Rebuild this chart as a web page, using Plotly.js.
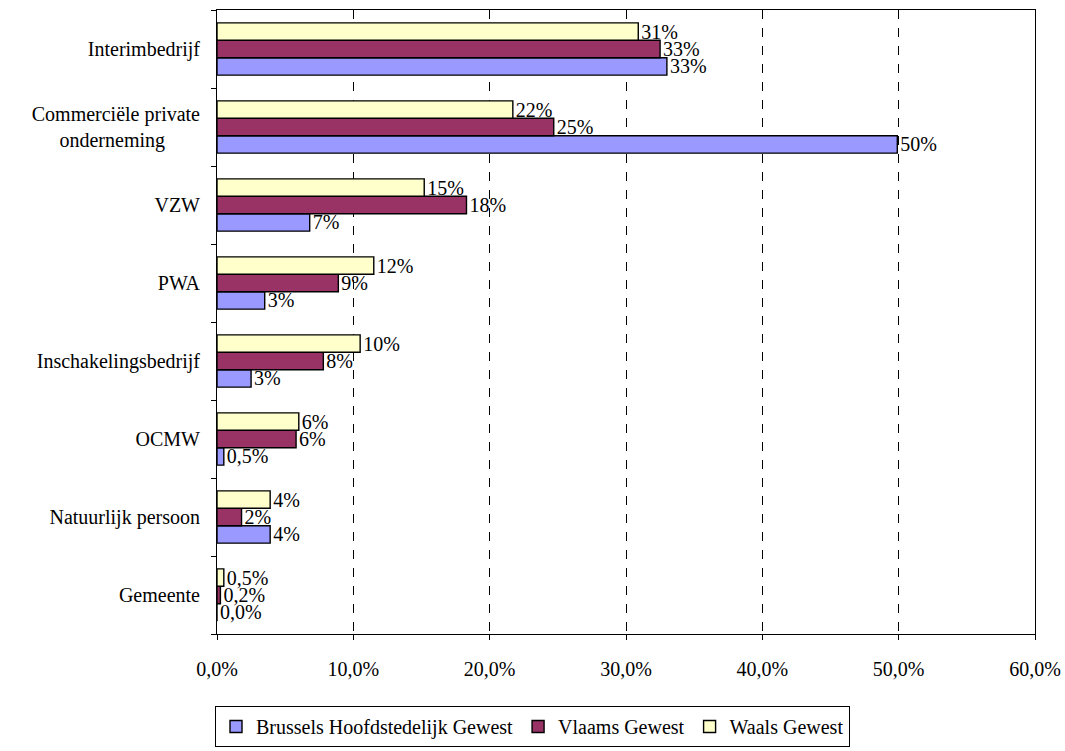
<!DOCTYPE html>
<html>
<head>
<meta charset="utf-8">
<script src="https://cdn.plot.ly/plotly-3.0.1.min.js"></script>
<style>html,body{margin:0;padding:0;background:#fff;}#chart{width:1065px;height:751px;}</style>
</head>
<body>
<div id="chart"></div>
<script>
// categories listed bottom to top
var categories = ["Gemeente", "Natuurlijk persoon", "OCMW", "Inschakelingsbedrijf", "PWA", "VZW",
  "Commerciële private<br>onderneming\u00A0\u00A0\u00A0\u00A0\u00A0\u00A0\u00A0", "Interimbedrijf"];
var brussels = [0.0, 3.9, 0.5, 2.5, 3.5, 6.8, 49.9, 33.0];
var vlaams   = [0.25, 1.8, 5.8, 7.8, 8.9, 18.3, 24.7, 32.5];
var waals    = [0.5, 3.9, 6.0, 10.5, 11.5, 15.2, 21.7, 30.9];
var brusselsLabels = ["0,0%", "4%", "0,5%", "3%", "3%", "7%", "50%", "33%"];
var vlaamsLabels   = ["0,2%", "2%", "6%", "8%", "9%", "18%", "25%", "33%"];
var waalsLabels    = ["0,5%", "4%", "6%", "10%", "12%", "15%", "22%", "31%"];
var xTicks = [0, 10, 20, 30, 40, 50, 60];
var xTickLabels = ["0,0%", "10,0%", "20,0%", "30,0%", "40,0%", "50,0%", "60,0%"];

var font = {family: "'Liberation Serif', 'Times New Roman', serif", size: 20, color: "#000"};
function tr(name, vals, labels, color) {
  return {
    type: "bar", orientation: "h", name: name, y: categories, x: vals,
    text: labels, textposition: "outside", cliponaxis: false, constraintext: "none",
    textfont: font, hoverinfo: "none",
    marker: {color: color, line: {color: "#000", width: 1.4}}
  };
}
var data = [
  tr("Brussels Hoofdstedelijk Gewest", brussels, brusselsLabels, "#9999FF"),
  tr("Vlaams Gewest", vlaams, vlaamsLabels, "#993366"),
  tr("Waals Gewest", waals, waalsLabels, "#FFFFCC")
];
var layout = {
  width: 1065, height: 751,
  margin: {l: 217, r: 30, t: 10, b: 117},
  paper_bgcolor: "#fff", plot_bgcolor: "#fff",
  font: font,
  separators: ",.",
  barmode: "group", bargap: 0.33, bargroupgap: 0,
  showlegend: true,
  legend: {orientation: "h", xref: "container", x: 0.5, xanchor: "center",
    yref: "container", y: 0.06, yanchor: "top",
    bordercolor: "#000", borderwidth: 1, font: font, traceorder: "normal",
    itemwidth: 30, tracegroupgap: 0},
  xaxis: {range: [0, 60], tickvals: xTicks, ticktext: xTickLabels,
    showgrid: true, gridcolor: "#000", griddash: "dash", gridwidth: 1,
    showline: true, linecolor: "#000", linewidth: 1, mirror: true,
    ticks: "outside", ticklen: 5, tickcolor: "#000", zeroline: false,
    tickfont: font, ticklabelstandoff: 12, fixedrange: true, automargin: false},
  yaxis: {type: "category", showline: true, linecolor: "#000", linewidth: 1, mirror: true,
    ticks: "outside", ticklen: 5, tickcolor: "#000", tickson: "boundaries",
    showgrid: false, tickfont: font, automargin: false, ticklabelstandoff: 12, fixedrange: true}
};
Plotly.newPlot("chart", data, layout, {displayModeBar: false, staticPlot: true});
</script>
</body>
</html>
